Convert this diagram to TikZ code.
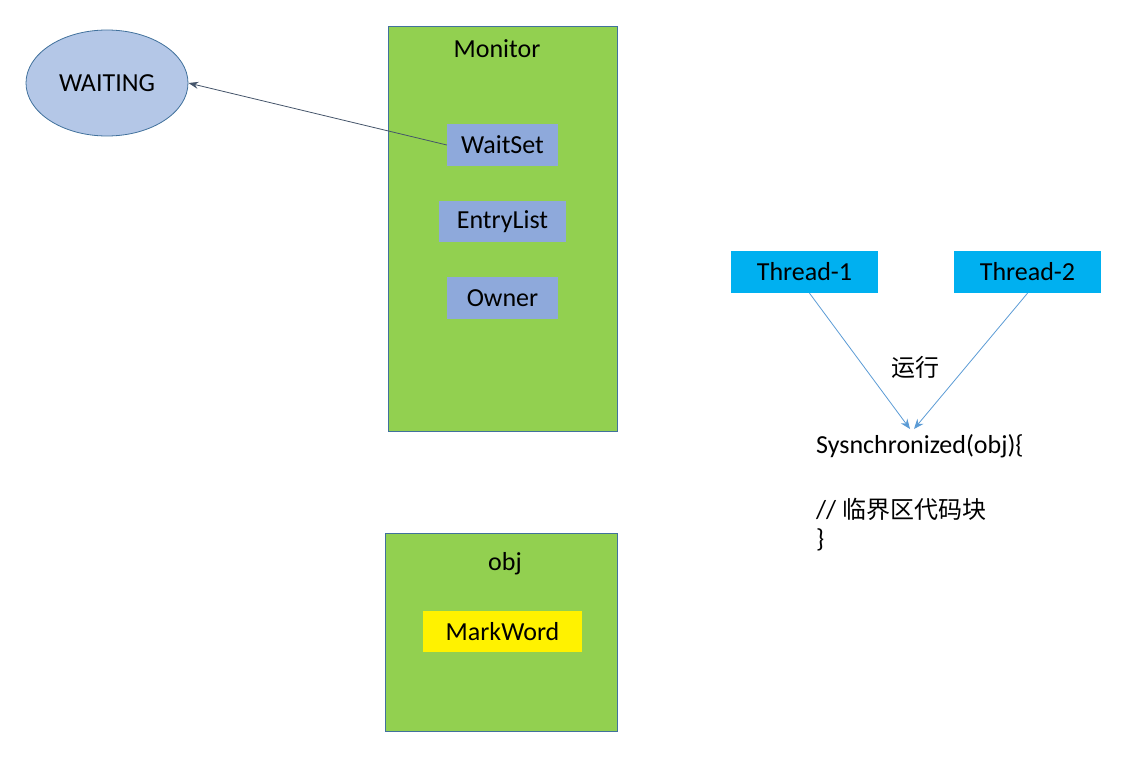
\documentclass[tikz,border=0pt]{standalone}
\usepackage{fontspec}
\setmainfont{Carlito}
\newfontfamily\cjk{Noto Sans CJK SC}
\usetikzlibrary{shapes.geometric,arrows.meta}
\definecolor{lgreen}{HTML}{92D050}
\definecolor{bordc}{HTML}{41719C}
\definecolor{ellfill}{HTML}{B4C7E7}
\definecolor{slot}{HTML}{8EA9DB}
\definecolor{thr}{HTML}{00B0F0}
\definecolor{arrblue}{HTML}{5B9BD5}
\definecolor{arrdark}{HTML}{44546A}
\tikzset{
  txt/.style={font=\fontsize{26}{31}\selectfont, text=black},
  container/.style={draw=bordc, line width=0.8pt, fill=lgreen},
  slotbox/.style={fill=slot, inner sep=0pt, txt},
  thrbox/.style={fill=thr, inner sep=0pt, minimum width=147pt, minimum height=42pt, txt},
  darrow/.style={draw=arrdark, line width=0.8pt, -{Stealth[length=10pt,width=7pt]}},
  barrow/.style={draw=arrblue, line width=0.8pt, -{Stealth[length=10pt,width=8pt]}},
}
\begin{document}
\begin{tikzpicture}[x=1pt,y=-1pt]
\useasboundingbox (0,0) rectangle (1131,770);
% WAITING ellipse
\node[ellipse, draw=bordc, line width=0.8pt, fill=ellfill, minimum width=162pt, minimum height=106pt, inner sep=0pt, txt] (wait) at (107,83) {WAITING};
% Monitor
\node[container, minimum width=229pt, minimum height=405pt, inner sep=0pt] (mon) at (502.5,228.5) {};
\node[txt] (monl) at (497,49) {Monitor};
\node[slotbox, minimum width=111pt, minimum height=42pt] (ws) at (502.5,145) {WaitSet};
\node[slotbox, minimum width=127pt, minimum height=41pt] (el) at (502.5,221.5) {EntryList};
\node[slotbox, minimum width=111pt, minimum height=42pt] (ow) at (502.5,298) {Owner};
\draw[darrow] (ws.west) -- (wait.east);
% obj
\node[container, minimum width=232pt, minimum height=198pt, inner sep=0pt] (obj) at (501,632) {};
\node[txt] (objl) at (505,564) {obj};
\node[fill=yellow, minimum width=159pt, minimum height=41pt, inner sep=0pt, txt] (mw) at (502.5,631.5) {MarkWord};
% threads
\node[thrbox] (t1) at (804.5,272) {Thread-1};
\node[thrbox] (t2) at (1027.5,272) {Thread-2};
\coordinate (e1) at (910,429);
\coordinate (e2) at (914,429);
\path (t1.south) ++(5,0) coordinate (s1);
\draw[barrow] (s1) -- (e1);
\draw[barrow] (t2.south) -- (e2);
\node[txt, font=\cjk\fontsize{24}{30}\selectfont] (run) at (915,367) {运行};
% code
\node[txt, anchor=base west, inner sep=0pt] (c1) at (816,453) {Sysnchronized(obj)\{};
\node[txt, anchor=base west, inner sep=0pt] (c2) at (816,518) {// {\cjk\fontsize{24}{30}\selectfont 临界区代码块}};
\node[txt, anchor=base west, inner sep=0pt] (c3) at (816,547) {\}};
\end{tikzpicture}
\end{document}
